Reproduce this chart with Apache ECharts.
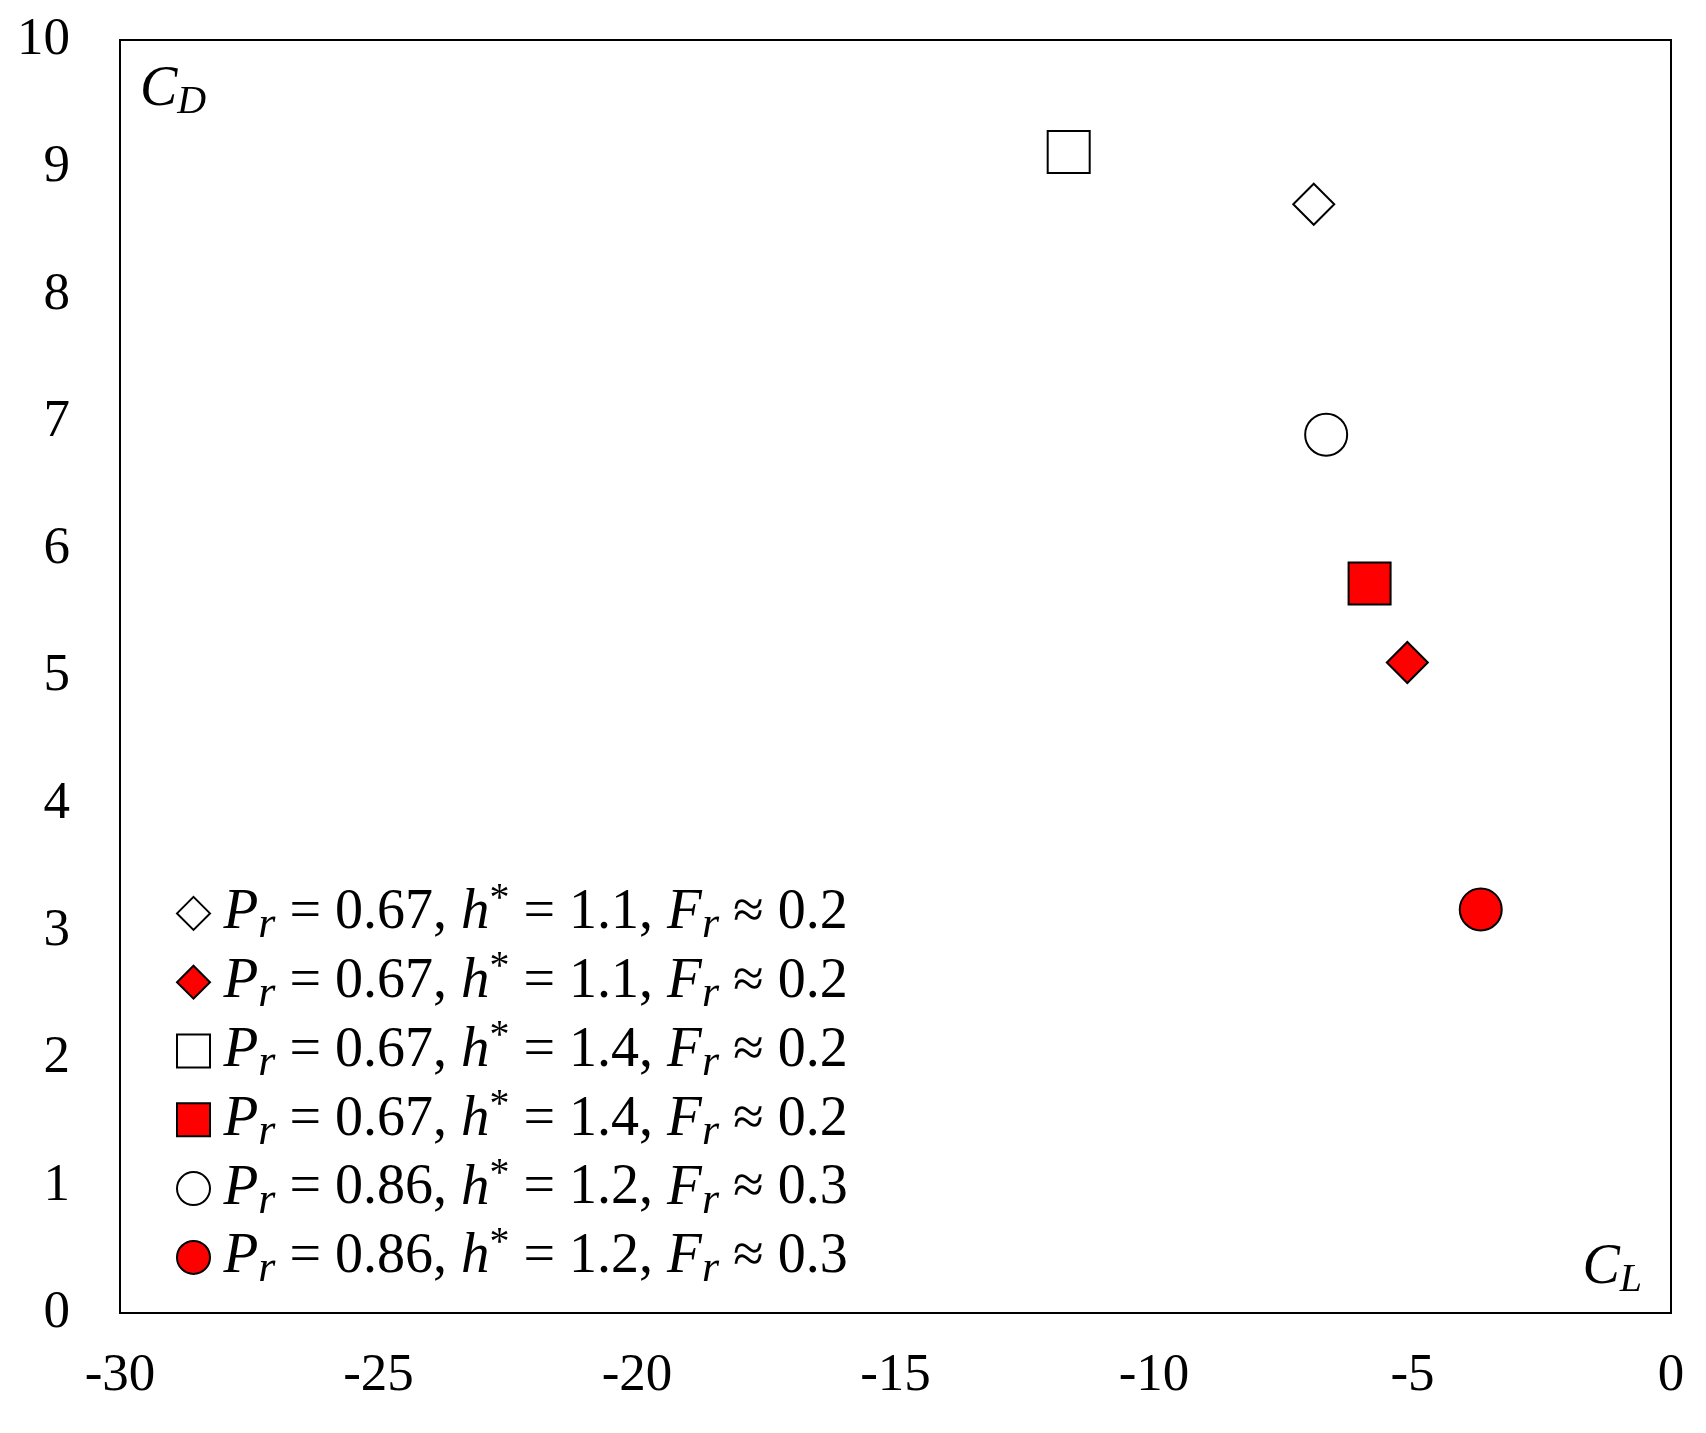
<!DOCTYPE html>
<html>
<head>
<meta charset="utf-8">
<script src="https://cdn.jsdelivr.net/npm/echarts@6/dist/echarts.min.js"></script>
<style>html,body{margin:0;padding:0;background:#fff;}#c{width:1706px;height:1433px;}</style>
</head>
<body>
<div id="c"></div>
<script>
// Data
const seriesIds = ['s1', 's2', 's3', 's4', 's5', 's6'];
const clValues = [-6.91, -5.10, -11.65, -5.83, -6.67, -3.68];
const cdValues = [8.71, 5.11, 9.12, 5.73, 6.90, 3.17];
const prValues = ['0.67', '0.67', '0.67', '0.67', '0.86', '0.86'];
const hValues = ['1.1', '1.1', '1.4', '1.4', '1.2', '1.2'];
const frValues = ['0.2', '0.2', '0.2', '0.2', '0.3', '0.3'];
const symbols = ['diamond', 'diamond', 'rect', 'rect', 'circle', 'circle'];
const fills = ['#ffffff', '#ff0000', '#ffffff', '#ff0000', '#ffffff', '#ff0000'];
const xTicks = [-30, -25, -20, -15, -10, -5, 0];
const yTicks = [0, 1, 2, 3, 4, 5, 6, 7, 8, 9, 10];

const SERIF = '"Liberation Serif", "Times New Roman", serif';
const symSizes = {diamond: 41, rect: 42, circle: 42};

const chart = echarts.init(document.getElementById('c'), null, {renderer: 'canvas'});

const series = seriesIds.map((id, i) => ({
  name: id,
  type: 'scatter',
  symbol: symbols[i],
  symbolSize: symSizes[symbols[i]],
  itemStyle: {color: fills[i], borderColor: '#000', borderWidth: 2, opacity: 1},
  data: [[clValues[i], cdValues[i]]],
  z: 5
}));

const LH = 68.8;
const richLegend = {
  g: {fontFamily: SERIF, fontSize: 34, lineHeight: LH, color: '#000', verticalAlign: 'middle'},
  n: {fontFamily: SERIF, fontSize: 56, lineHeight: LH, color: '#000', verticalAlign: 'middle'},
  i: {fontFamily: SERIF, fontSize: 57, fontStyle: 'italic', lineHeight: LH, color: '#000', verticalAlign: 'middle'},
  sub: {fontFamily: SERIF, fontSize: 44, fontStyle: 'italic', lineHeight: 5, color: '#000', verticalAlign: 'bottom'},
  sup: {fontFamily: SERIF, fontSize: 40, lineHeight: 38, color: '#000', verticalAlign: 'top'}
};

const option = {
  backgroundColor: '#fff',
  animation: false,
  grid: {left: 120, right: 35, top: 40, bottom: 120, show: true, borderColor: '#000', borderWidth: 2, backgroundColor: 'transparent'},
  xAxis: {
    type: 'value', min: xTicks[0], max: xTicks[xTicks.length - 1], interval: 5,
    axisLine: {show: true, lineStyle: {color: '#000', width: 2}},
    axisTick: {show: false},
    splitLine: {show: false},
    axisLabel: {margin: 37, fontFamily: SERIF, fontSize: 53, color: '#000'}
  },
  yAxis: {
    type: 'value', min: yTicks[0], max: yTicks[yTicks.length - 1], interval: 1,
    axisLine: {show: true, lineStyle: {color: '#000', width: 2}},
    axisTick: {show: false},
    splitLine: {show: false},
    axisLabel: {margin: 50, fontFamily: SERIF, fontSize: 53, color: '#000'}
  },
  legend: {
    orient: 'vertical',
    left: 176,
    top: 879,
    padding: 0,
    itemWidth: 33,
    itemHeight: 33,
    itemGap: 0,
    itemTextGap: 14,
    selectedMode: false,
    data: seriesIds,
    formatter: function (name) {
      const i = seriesIds.indexOf(name);
      return '{g| }{i|P}{sub|r}{n| = ' + prValues[i] + ', }{i|h}{sup|*}{n| = ' + hValues[i] + ', }{i|F}{sub|r}{n| \u2248 ' + frValues[i] + '}';
    },
    textStyle: {rich: richLegend}
  },
  graphic: [
    {
      type: 'text', left: 140, top: 62, z: 10,
      style: {
        text: '{c|C}{d|D}',
        rich: {
          c: {fontFamily: SERIF, fontStyle: 'italic', fontSize: 56, lineHeight: 60, verticalAlign: 'top', fill: '#000'},
          d: {fontFamily: SERIF, fontStyle: 'italic', fontSize: 40, lineHeight: 30, verticalAlign: 'bottom', fill: '#000'}
        }
      }
    },
    {
      type: 'text', right: 64, top: 1240, z: 10,
      style: {
        text: '{c|C}{d|L}',
        rich: {
          c: {fontFamily: SERIF, fontStyle: 'italic', fontSize: 56, lineHeight: 60, verticalAlign: 'top', fill: '#000'},
          d: {fontFamily: SERIF, fontStyle: 'italic', fontSize: 40, lineHeight: 30, verticalAlign: 'bottom', fill: '#000'}
        }
      }
    }
  ],
  series: series
};
chart.setOption(option);
</script>
</body>
</html>
